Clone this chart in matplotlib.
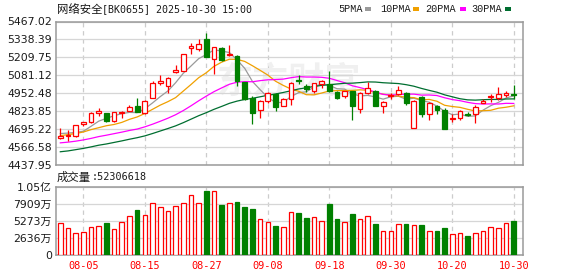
import matplotlib
matplotlib.use('Agg')
import matplotlib.pyplot as plt
from matplotlib.patches import Rectangle

plt.rcParams['font.family'] = ['DejaVu Sans', 'Noto Sans CJK SC']

dates = ['07-31', '08-01', '08-04', '08-05', '08-06', '08-07', '08-08', '08-11', '08-12', '08-13',
         '08-14', '08-15', '08-18', '08-19', '08-20', '08-21', '08-22', '08-25', '08-26', '08-27',
         '08-28', '08-29', '09-01', '09-02', '09-03', '09-04', '09-05', '09-08', '09-09', '09-10',
         '09-11', '09-12', '09-15', '09-16', '09-17', '09-18', '09-19', '09-22', '09-23', '09-24',
         '09-25', '09-26', '09-29', '09-30', '10-09', '10-10', '10-13', '10-14', '10-15', '10-16',
         '10-17', '10-20', '10-21', '10-22', '10-23', '10-24', '10-27', '10-28', '10-29', '10-30']
tick_dates = ['08-05', '08-15', '08-27', '09-08', '09-18', '09-30', '10-20', '10-30']

opens = [4628, 4645, 4645, 4728, 4742, 4813, 4808, 4749, 4810, 4827,
         4861, 4806, 4920, 5028, 5005, 5105, 5112, 5280, 5266, 5341,
         5195, 5278, 5227, 5218, 5029, 4915, 4832, 4898, 4946, 4863,
         4910, 5045, 5007, 4969, 5017, 5017, 4958, 4929, 4965, 4839,
         4953, 4965, 4863, 4935, 4943, 4955, 4702, 4922, 4804, 4863,
         4832, 4766, 4775, 4800, 4804, 4882, 4925, 4918, 4940, 4943]
closes = [4643, 4650, 4721, 4742, 4813, 4827, 4754, 4816, 4815, 4856,
          4818, 4894, 5026, 5040, 5062, 5115, 5230, 5288, 5304, 5211,
          5282, 5192, 5232, 5036, 4910, 4808, 4898, 4951, 4856, 4910,
          5022, 5040, 4981, 5024, 5036, 4965, 4915, 4965, 4858, 4955,
          4986, 4861, 4887, 4940, 4974, 4880, 4898, 4804, 4880, 4832,
          4697, 4772, 4827, 4795, 4856, 4898, 4932, 4948, 4950, 4938]
highs = [4699, 4690, 4725, 4745, 4815, 4842, 4812, 4820, 4822, 4865,
         4916, 4900, 5043, 5086, 5065, 5154, 5232, 5313, 5344, 5384,
         5287, 5285, 5296, 5223, 5032, 4934, 4902, 4958, 4950, 4915,
         5029, 5083, 5017, 5026, 5048, 5112, 4965, 4968, 4967, 4960,
         5029, 4974, 4898, 4951, 5005, 4960, 4900, 4932, 4885, 4868,
         4842, 4799, 4830, 4820, 4870, 4908, 4946, 4993, 4970, 5012]
lows = [4626, 4605, 4640, 4716, 4740, 4785, 4747, 4746, 4775, 4822,
        4816, 4800, 4915, 5010, 4954, 5095, 5110, 5235, 5254, 5209,
        5088, 5183, 5216, 5005, 4903, 4733, 4773, 4879, 4827, 4860,
        4870, 5017, 4958, 4951, 4988, 4958, 4908, 4917, 4761, 4808,
        4943, 4858, 4808, 4910, 4940, 4870, 4700, 4780, 4761, 4804,
        4697, 4742, 4761, 4785, 4739, 4880, 4891, 4903, 4922, 4908]

ma5 = [4662, 4665, 4670, 4678, 4714, 4751, 4771, 4790, 4805, 4814,
       4812, 4840, 4882, 4927, 4968, 5027, 5095, 5147, 5200, 5230,
       5263, 5255, 5244, 5191, 5130, 5036, 4977, 4921, 4885, 4885,
       4927, 4956, 4962, 4995, 5021, 5009, 4984, 4981, 4948, 4932,
       4936, 4925, 4909, 4926, 4930, 4908, 4916, 4899, 4887, 4859,
       4822, 4797, 4802, 4785, 4789, 4830, 4862, 4886, 4917, 4933]
ma10 = [4647, 4654, 4662, 4673, 4690, 4704, 4718, 4727, 4742, 4764,
        4781, 4806, 4836, 4866, 4891, 4920, 4967, 5014, 5063, 5099,
        5145, 5175, 5196, 5195, 5180, 5149, 5116, 5082, 5038, 5008,
        4982, 4966, 4941, 4940, 4953, 4968, 4970, 4971, 4972, 4976,
        4973, 4955, 4945, 4937, 4931, 4922, 4920, 4904, 4907, 4894,
        4865, 4856, 4850, 4836, 4824, 4826, 4829, 4844, 4851, 4861]
ma20 = [4595, 4600, 4607, 4616, 4627, 4640, 4650, 4661, 4672, 4684,
        4694, 4710, 4729, 4750, 4772, 4797, 4827, 4861, 4897, 4931,
        4963, 4990, 5016, 5031, 5035, 5034, 5042, 5048, 5050, 5053,
        5063, 5071, 5068, 5068, 5066, 5059, 5043, 5027, 5005, 4992,
        4977, 4960, 4943, 4938, 4942, 4945, 4945, 4938, 4939, 4935,
        4919, 4906, 4898, 4886, 4877, 4874, 4875, 4874, 4879, 4878]
ma30 = [4531, 4537, 4546, 4555, 4566, 4578, 4587, 4598, 4609, 4621,
        4632, 4645, 4662, 4680, 4698, 4717, 4740, 4765, 4790, 4812,
        4836, 4857, 4879, 4895, 4907, 4915, 4926, 4937, 4946, 4957,
        4969, 4982, 4991, 5000, 5008, 5012, 5018, 5023, 5024, 5028,
        5033, 5032, 5027, 5024, 5021, 5013, 5002, 4986, 4972, 4959,
        4940, 4926, 4912, 4904, 4902, 4905, 4907, 4907, 4910, 4911]

volumes = [48.9, 41.2, 33.4, 35.0, 42.7, 44.2, 49.4, 39.6, 50.4, 59.7,
           68.9, 61.2, 79.7, 73.6, 67.4, 75.1, 79.7, 92.1, 80.8, 98.8,
           98.3, 77.2, 79.7, 81.3, 73.6, 71.0, 55.0, 50.9, 44.8, 42.7,
           65.8, 64.3, 57.1, 58.1, 52.0, 78.7, 55.6, 50.9, 63.3, 55.0,
           59.7, 47.8, 37.0, 37.0, 47.3, 47.8, 45.8, 45.8, 37.0, 37.0,
           41.2, 31.9, 33.4, 28.8, 33.4, 37.0, 42.7, 41.2, 48.9, 52.306618]  # millions
last_volume = 52306618

price_ticks = [4437.95, 4566.58, 4695.22, 4823.85, 4952.48, 5081.12, 5209.75, 5338.39, 5467.02]
vol_ticks = [0, 26363618, 52727236, 79090854, 105454472]
vol_tick_labels = ['0', '2636万', '5273万', '7909万', '1.05亿']

title_name = '网络安全'
title_rest = '[BK0655] 2025-10-30 15:00'
vol_name = '成交量'
ma_names = ['5PMA', '10PMA', '20PMA', '30PMA']

RED = '#ff0000'
GREEN = '#008000'
MA_COLORS = ['#9a9a9a', '#f0a000', '#ff00ff', '#006e30']
GRID = '#d6d6d6'
FRAME = '#9a9a9a'
TXT = '#1a1a1a'

W, H = 578, 276
fig = plt.figure(figsize=(W / 100, H / 100), dpi=100)
fig.patch.set_facecolor('white')

def fx(px):
    return px / W

def fy(py):
    return 1 - py / H

L, R = 56, 522.7
ax = fig.add_axes([fx(L), fy(164.7), (R - L) / W, (164.7 - 21.5) / H])
axv = fig.add_axes([fx(L), fy(255), (R - L) / W, (255 - 186.7) / H])

n = len(closes)
xs = list(range(n))
tick_idx = [dates.index(d) for d in tick_dates]

for a in (ax, axv):
    a.set_xlim(-0.56, n + 0.16)
    for s in a.spines.values():
        s.set_color(FRAME)
        s.set_linewidth(1.1)
    a.tick_params(length=0, pad=3)
    for t in tick_idx:
        a.axvline(t, color='#cccccc', lw=0.9, ls=(0, (3.5, 3)), zorder=0)

# watermark
ax.text(0.5, 0.58, '东方财富', transform=ax.transAxes, ha='center', va='center',
        fontsize=26, color='#f0f0f0', fontweight='bold', style='italic',
        family=['Noto Sans CJK SC'], zorder=0)

# price axes
ax.set_ylim(price_ticks[0], price_ticks[-1])
ax.set_yticks(price_ticks)
ax.set_yticklabels(['%.2f' % v for v in price_ticks], fontsize=7.8, color=TXT)
ax.set_xticks([])
ax.grid(axis='y', color=GRID, lw=0.9, ls='-', zorder=0)

bw = 0.62
for i in xs:
    o, c, h, l = opens[i], closes[i], highs[i], lows[i]
    up = c >= o
    col = RED if up else GREEN
    top, bot = max(o, c), min(o, c)
    ax.vlines(i, top, h, color=col, lw=0.9, zorder=3)
    ax.vlines(i, l, bot, color=col, lw=0.9, zorder=3)
    ax.add_patch(Rectangle((i - bw / 2, bot), bw, max(top - bot, 2.0),
                           facecolor='white' if up else GREEN, edgecolor=col,
                           lw=0.9, zorder=4))

for vals, col in zip([ma5, ma10, ma20, ma30], MA_COLORS):
    ax.plot(xs, vals, color=col, lw=0.9, zorder=2)

# volume axes
axv.set_ylim(0, vol_ticks[-1])
axv.set_yticks(vol_ticks)
axv.set_yticklabels(vol_tick_labels, fontsize=7.8, color=TXT)
axv.grid(axis='y', color=GRID, lw=0.9, ls='-', zorder=0)
axv.set_xticks(tick_idx)
axv.set_xticklabels(tick_dates, fontsize=7.4, color=RED, family=['DejaVu Sans Mono'])
axv.tick_params(axis='x', pad=4)

vbw = 0.6
for i in xs:
    up = closes[i] >= opens[i]
    v = volumes[i] * 1e6
    axv.add_patch(Rectangle((i - vbw / 2, 0), vbw, v,
                            facecolor='white' if up else GREEN,
                            edgecolor=RED if up else GREEN, lw=0.9, zorder=3))

# texts
fig.text(fx(57), fy(9), title_name, fontsize=8.2, color=TXT, va='center', ha='left',
         family=['Noto Sans CJK SC'])
fig.text(fx(102.5), fy(9), title_rest, fontsize=7.2, color=TXT, va='center', ha='left',
         family=['DejaVu Sans Mono'])
fig.text(fx(57), fy(177), vol_name, fontsize=8.2, color=TXT, va='center', ha='left',
         family=['Noto Sans CJK SC'])
fig.text(fx(91.5), fy(177), ':%d' % last_volume, fontsize=7.3, color=TXT, va='center',
         ha='left', family=['DejaVu Sans Mono'])

leg_x = [338, 380, 425, 471]
sq_x = [365, 413, 460, 505]
for name, col, lx, sx in zip(ma_names, MA_COLORS, leg_x, sq_x):
    fig.text(fx(lx), fy(9), name, fontsize=7.3, color=TXT, va='center', ha='left',
             family=['Liberation Mono'])
    fig.patches.append(Rectangle((fx(sx), fy(10.5)), 6 / W, 3 / H, facecolor=col,
                                 edgecolor='none', transform=fig.transFigure, figure=fig))

fig.savefig('out.png', dpi=100, facecolor='white')
